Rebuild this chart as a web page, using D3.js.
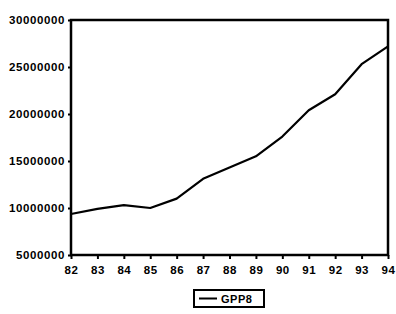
<!DOCTYPE html>
<html>
<head>
<meta charset="utf-8">
<script src="https://cdn.jsdelivr.net/npm/d3@7"></script>
<style>
  body { margin: 0; background: #fff; }
  text { font-family: "Liberation Sans", Arial, sans-serif; font-weight: bold; fill: #000; }
</style>
</head>
<body>
<div class="chart"></div>
<script>
var svgWidth = 396;
var svgHeight = 314;

var margin = { top: 20, right: 8, bottom: 59, left: 71 };
var width = 388 - margin.left;
var height = 255 - margin.top;

// data
var years = ["82", "83", "84", "85", "86", "87", "88", "89", "90", "91", "92", "93", "94"];
var gpp = [9360000, 9900000, 10300000, 10000000, 11000000, 13100000, 14300000, 15500000,
           17600000, 20400000, 22100000, 25300000, 27200000];
var yTicks = [5000000, 10000000, 15000000, 20000000, 25000000, 30000000];
var seriesName = "GPP8";

var svg = d3.select(".chart").append("svg")
  .attr("width", svgWidth)
  .attr("height", svgHeight);

var chartGroup = svg.append("g")
  .attr("transform", `translate(${margin.left}, ${margin.top})`);

var xScale = d3.scalePoint().domain(years).range([0, width]);
var yScale = d3.scaleLinear().domain([5000000, 30000000]).range([height, 0]);

// frame
chartGroup.append("rect")
  .attr("x", 0).attr("y", 0)
  .attr("width", width).attr("height", height)
  .attr("fill", "none")
  .attr("stroke", "#000")
  .attr("stroke-width", 2.5);

// y axis
var leftAxis = d3.axisLeft(yScale).tickValues(yTicks).tickSize(3).tickPadding(3)
  .tickFormat(d3.format("d"));
var yAxis = chartGroup.append("g").call(leftAxis);
yAxis.select(".domain").remove();
yAxis.selectAll("line").attr("stroke-width", 2);
yAxis.selectAll("text")
  .attr("font-size", "11.5px")
  .attr("letter-spacing", "0.6px")
  .attr("font-family", "Liberation Sans, Arial, sans-serif")
  .attr("font-weight", "bold");

// x axis
var bottomAxis = d3.axisBottom(xScale).tickSize(4).tickPadding(7);
var xAxis = chartGroup.append("g")
  .attr("transform", `translate(0, ${height})`)
  .call(bottomAxis);
xAxis.select(".domain").remove();
xAxis.selectAll("line").attr("stroke-width", 2);
xAxis.selectAll("text")
  .attr("font-size", "11.5px")
  .attr("letter-spacing", "0.5px")
  .attr("font-family", "Liberation Sans, Arial, sans-serif")
  .attr("font-weight", "bold");

// series line
var line = d3.line()
  .x((d, i) => xScale(years[i]))
  .y(d => yScale(d));

chartGroup.append("path")
  .datum(gpp)
  .attr("d", line)
  .attr("fill", "none")
  .attr("stroke", "#000")
  .attr("stroke-width", 2.2)
  .attr("stroke-linejoin", "round");

// legend
var legend = svg.append("g").attr("transform", "translate(194, 290)");
legend.append("rect")
  .attr("width", 70).attr("height", 17)
  .attr("fill", "#fff").attr("stroke", "#000").attr("stroke-width", 2);
legend.append("line")
  .attr("x1", 5).attr("x2", 23).attr("y1", 8.5).attr("y2", 8.5)
  .attr("stroke", "#000").attr("stroke-width", 2);
legend.append("text")
  .attr("x", 27).attr("y", 12.5)
  .attr("font-size", "11px")
  .attr("letter-spacing", "0.5px")
  .text(seriesName);
</script>
</body>
</html>
